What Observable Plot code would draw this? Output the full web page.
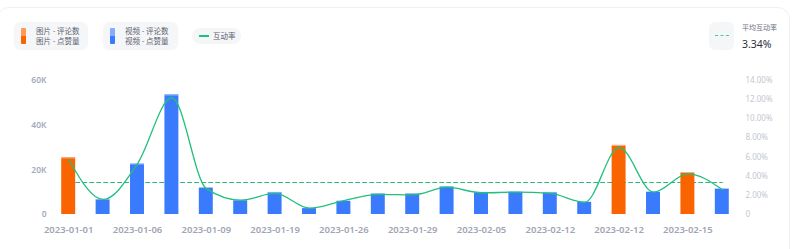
<!DOCTYPE html>
<html>
<head>
<meta charset="utf-8">
<script src="https://cdn.jsdelivr.net/npm/d3@7"></script>
<script src="https://cdn.jsdelivr.net/npm/@observablehq/plot@0.6"></script>
<style>
  html, body { margin: 0; padding: 0; background: #fff; width: 800px; height: 249px; overflow: hidden; }
  body { position: relative; font-family: "Noto Sans", "Noto Sans CJK SC", sans-serif; }
  .card { position: absolute; left: -3px; top: 7px; width: 793px; height: 260px; border: 1px solid #eef0f4; border-radius: 12px; box-sizing: border-box; }
  .box { position: absolute; background: #f5f6f8; border-radius: 6px; }
  .sw { position: absolute; width: 5px; height: 16px; border-radius: 1px; }
  .lt { position: absolute; font-size: 7.5px; color: #5d6272; white-space: nowrap; line-height: 10px; font-family: "Noto Sans CJK SC", sans-serif; }
  #chart { position: absolute; left: 0; top: 60px; }
</style>
</head>
<body>
<div class="card"></div>
<div class="box" style="left:14px;top:22px;width:74px;height:28px;">
  <div class="sw" style="left:7px;top:6px;background:linear-gradient(#ff9a55 0 50%, #fa6400 50% 100%);"></div>
  <div class="lt" style="left:22px;top:4px;">图片 - 评论数</div>
  <div class="lt" style="left:22px;top:14px;">图片 - 点赞量</div>
</div>
<div class="box" style="left:103px;top:22px;width:75px;height:28px;">
  <div class="sw" style="left:7px;top:6px;background:linear-gradient(#86acff 0 50%, #3a7bfd 50% 100%);"></div>
  <div class="lt" style="left:22px;top:4px;">视频 - 评论数</div>
  <div class="lt" style="left:22px;top:14px;">视频 - 点赞量</div>
</div>
<div class="box" style="left:192px;top:28px;width:49px;height:16px;border-radius:8px;">
  <div style="position:absolute;left:7px;top:7px;width:10px;height:2px;background:#22c07c;"></div>
  <div class="lt" style="left:21px;top:3px;">互动率</div>
</div>
<div class="box" style="left:709px;top:22px;width:25px;height:28px;">
  <div style="position:absolute;left:6px;top:13px;width:14px;height:0;border-top:1px dashed #3fcf97;"></div>
</div>
<div class="lt" style="left:742px;top:22px;font-size:7px;color:#6b7080;">平均互动率</div>
<div class="lt" style="left:742px;top:38px;font-size:10.5px;color:#2b2f3a;line-height:12px;font-family:'Noto Sans',sans-serif;">3.34%</div>
<div id="chart"></div>
<script>
const tickLabels = ["2023-01-01","2023-01-06","2023-01-09","2023-01-19","2023-01-26","2023-01-29","2023-02-05","2023-02-12","2023-02-12","2023-02-15"];
const types = ["图片","视频","视频","视频","视频","视频","视频","视频","视频","视频","视频","视频","视频","视频","视频","视频","图片","视频","图片","视频"];
const likes = [25000, 6550, 22300, 53200, 11800, 6150, 9700, 2650, 5850, 9150, 9150, 12300, 9700, 9900, 9700, 5400, 30550, 9900, 18450, 11300];
const comments = [500, 150, 400, 500, 200, 150, 200, 100, 150, 150, 150, 200, 200, 200, 200, 100, 450, 200, 350, 200];
const rates = [5.75, 1.57, 5.3, 12.2, 2.7, 1.5, 2.2, 0.66, 1.46, 2.1, 2.05, 2.85, 2.27, 2.33, 2.2, 1.28, 7.0, 2.33, 4.25, 2.6];
const avgRate = 3.34;
const leftTicks = [0, 20000, 40000, 60000];
const rightTicks = [0, 2, 4, 6, 8, 10, 12, 14];

const k = 60000 / 14;
const colors = {"图片-点赞量": "#fa6400", "图片-评论数": "#ffa06a", "视频-点赞量": "#3a7bfd", "视频-评论数": "#8db0ff"};
const rows = likes.map((v, i) => ({i, type: types[i], likes: v, comments: comments[i], rate: rates[i]}));
const segs = rows.flatMap(d => [
  {i: d.i, key: d.type + "-点赞量", y1: 0, y2: d.likes},
  {i: d.i, key: d.type + "-评论数", y1: d.likes, y2: d.likes + d.comments}
]);
const hw = 0.203;

const chart = Plot.plot({
  width: 800,
  height: 189,
  marginLeft: 51,
  marginRight: 61,
  marginTop: 20,
  marginBottom: 35,
  style: {fontFamily: "'Noto Sans', 'Noto Sans CJK SC', sans-serif", background: "transparent"},
  x: {type: "linear", domain: [-0.5, 19.5], label: null},
  y: {domain: [0, 60000], label: null},
  marks: [
    Plot.lineY(rows, {x: "i", y: () => avgRate * k, stroke: "#2bb673", strokeWidth: 1, strokeDasharray: "4,3"}),
    Plot.rect(segs, {x1: d => d.i - hw, x2: d => d.i + hw, y1: "y1", y2: "y2", fill: d => colors[d.key]}),
    Plot.lineY(rows, {x: "i", y: d => d.rate * k, curve: "monotone-x", stroke: "#22c07c", strokeWidth: 1.3}),
    Plot.axisY(leftTicks, {anchor: "left", label: null, tickSize: 0, tickPadding: 5, tickFormat: d => d === 0 ? "0" : d / 1000 + "K", fill: "#a5abb8", fontSize: 8.5, fontWeight: 600}),
    Plot.axisY(rightTicks.map(v => v * k), {anchor: "right", label: null, tickSize: 0, tickPadding: 6, tickFormat: d => { const p = Math.round(d / k); return p === 0 ? "0" : p.toFixed(2) + "%"; }, fill: "#c3c7d0", fontSize: 8}),
    Plot.axisX(tickLabels.map((_, j) => j * 2), {anchor: "bottom", label: null, tickSize: 0, tickPadding: 12, tickFormat: d => tickLabels[d / 2], fill: "#a0a6b3", fontSize: 9.5, fontWeight: 600})
  ]
});
document.getElementById("chart").appendChild(chart);
</script>
</body>
</html>
